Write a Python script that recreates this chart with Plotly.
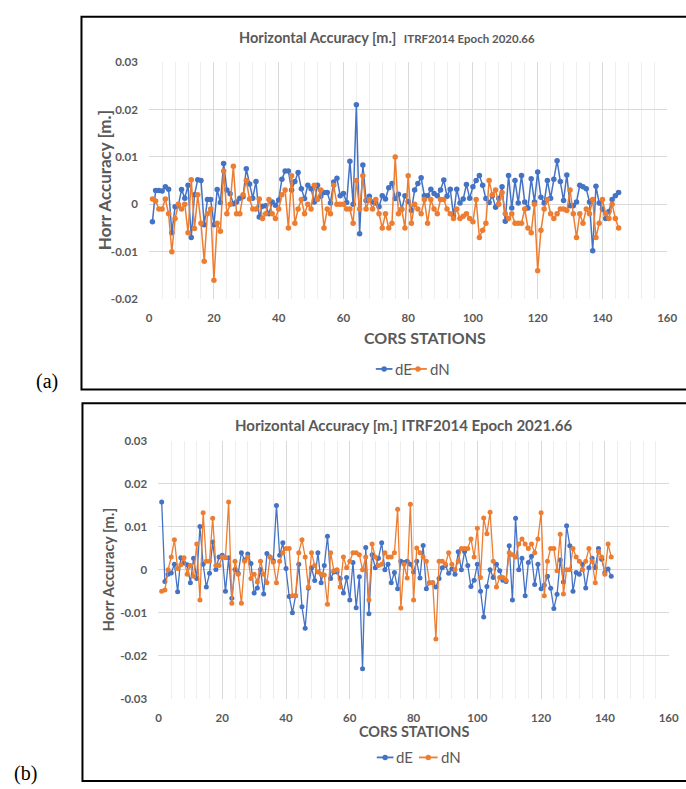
import plotly.graph_objects as go

# ---------------- data ----------------
stations_a = list(range(1, 146))
dE_a = [-0.0037, 0.0029, 0.0029, 0.0028, 0.0037, 0.0032, -0.006, -0.0005, -0.0003, 0.0031,
        0.0013, 0.004, -0.007, 0.002, 0.0052, 0.005, -0.0043, 0.001, 0.001, -0.0043,
        0.0031, 0.0004, 0.0086, 0.003, 0.0022, 0.0001, 0.0005, 0.0013, 0.0016, 0.0075,
        0.0043, 0.0013, 0.0048, -0.0027, -0.0004, -0.0003, -0.002, 0.0005, -0.0002, 0.0009,
        0.0053, 0.007, 0.007, 0.003, 0.0048, 0.0067, 0.0033, 0.0012, 0.004, 0.0033,
        0.0005, 0.004, 0.0017, 0.0025, 0.0025, 0.0003, 0.0047, 0.0055, 0.0018, 0.0023,
        0.0004, 0.0091, 0.0, 0.021, -0.0062, 0.0083, 0.0008, 0.0017, 0.0005, 0.0003,
        -0.0005, 0.0018, 0.0011, 0.0035, 0.0044, 0.0012, 0.0021, -0.0011, 0.0018, 0.0006,
        -0.0013, 0.003, 0.0044, 0.0056, 0.0018, 0.0018, 0.0032, 0.0023, 0.0018, 0.003,
        0.0051, 0.0017, 0.0032, -0.0024, 0.0032, 0.0003, 0.0011, 0.0042, 0.0013, 0.0037,
        0.005, 0.0061, 0.004, 0.0012, 0.0004, 0.0018, -0.0006, 0.0012, 0.0037, -0.0036,
        0.0061, -0.0008, 0.005, 0.0003, 0.0061, 0.0005, -0.0008, 0.0054, 0.0005, 0.0068,
        0.0015, 0.0003, 0.005, 0.0013, 0.0053, 0.0092, 0.0048, 0.0008, 0.0062, -0.0003,
        -0.0003, 0.0005, 0.004, 0.0037, 0.0033, 0.0005, -0.0098, 0.0038, 0.0003, -0.001,
        -0.003, -0.0015, 0.001, 0.0018, 0.0025]
dN_a = [0.0011, 0.0007, -0.001, -0.001, 0.0011, -0.002, -0.01, -0.003, 0.0, -0.001,
        0.0, -0.006, 0.0052, -0.0051, 0.002, -0.004, -0.012, -0.002, -0.001, -0.016,
        -0.004, -0.0057, 0.007, -0.002, 0.0, 0.008, -0.002, -0.002, 0.002, 0.005,
        0.0011, -0.001, -0.001, 0.0011, -0.003, -0.002, 0.001, -0.002, -0.003, -0.001,
        0.002, 0.003, -0.005, 0.006, -0.004, -0.001, 0.001, -0.002, 0.0, -0.001,
        0.004, 0.001, 0.003, -0.005, -0.001, -0.002, 0.004, 0.0, 0.0, 0.0,
        -0.001, -0.001, -0.004, 0.005, -0.001, 0.006, -0.001, 0.001, -0.001, 0.001,
        -0.002, -0.005, -0.002, -0.005, -0.004, 0.01, -0.002, -0.001, -0.005, 0.006,
        -0.004, 0.0, -0.001, -0.002, 0.001, -0.004, 0.001, -0.001, -0.002, 0.001,
        0.001, -0.001, -0.002, -0.003, -0.001, -0.003, -0.0025, -0.002, -0.003, -0.0037,
        0.001, -0.007, -0.0055, -0.004, 0.005, 0.002, 0.003, 0.0, 0.0025, -0.002,
        -0.003, -0.002, -0.004, -0.004, -0.004, -0.001, -0.005, -0.006, 0.0, -0.014,
        -0.0055, -0.001, 0.001, -0.002, -0.003, -0.002, -0.001, -0.001, -0.0013, 0.003,
        -0.002, -0.007, -0.002, -0.004, -0.001, -0.002, 0.001, -0.007, -0.004, 0.001,
        -0.002, -0.003, 0.0, -0.003, -0.005]

stations_b = list(range(1, 143))
dE_b = [0.0158, -0.0027, -0.001, -0.0007, 0.0013, -0.0051, 0.0028, 0.0016, 0.0012, -0.003,
        0.0027, -0.002, 0.0101, 0.0013, -0.004, -0.0008, 0.0065, 0.0001, 0.003, 0.0034,
        -0.005, 0.0028, -0.0066, 0.0001, -0.0008, 0.004, 0.0023, 0.0037, 0.0015, -0.0054,
        -0.0042, 0.0001, -0.0056, 0.0038, 0.003, 0.0021, 0.015, 0.0034, 0.0063, 0.0003,
        -0.0062, -0.01, -0.006, 0.0013, -0.0086, -0.0136, -0.0042, 0.0005, -0.0025, 0.004,
        -0.003, 0.001, 0.0078, -0.002, -0.0005, -0.0005, -0.002, -0.0054, -0.0018, -0.007,
        0.0017, -0.0088, -0.0016, -0.023, 0.0052, -0.0102, 0.0035, 0.0005, 0.0027, 0.0063,
        0.0, 0.0013, -0.003, -0.0006, -0.0044, 0.002, 0.0017, 0.002, 0.0013, -0.0005,
        0.002, -0.0019, 0.0057, -0.0044, -0.003, -0.003, -0.004, -0.002, 0.0005, 0.001,
        -0.0008, 0.0002, -0.001, 0.0042, 0.0, 0.0043, 0.001, -0.0039, -0.0024, 0.0013,
        -0.005, -0.011, -0.0039, 0.0, -0.0018, 0.0013, -0.0002, -0.0024, -0.0027, 0.0056,
        -0.007, 0.012, 0.0, 0.0027, -0.006, 0.0017, 0.0032, -0.0034, 0.0013, -0.0044,
        -0.0035, -0.0015, -0.0043, -0.009, -0.0057, 0.0023, -0.0028, 0.0103, 0.0056, -0.005,
        -0.0006, -0.001, 0.0013, -0.0042, 0.0005, 0.0027, 0.0005, 0.005, 0.0025, -0.0006,
        0.0002, -0.0015]
dN_b = [-0.005, -0.0047, 0.0, 0.003, 0.007, 0.0003, 0.0012, 0.0028, -0.001, 0.001,
        -0.0015, 0.006, -0.007, 0.0133, 0.002, 0.002, 0.012, 0.001, 0.001, 0.003,
        0.0028, 0.0158, -0.0078, 0.002, -0.001, -0.0078, 0.002, 0.003, -0.002, -0.001,
        -0.0028, 0.002, -0.001, -0.003, 0.003, 0.0018, -0.003, 0.002, 0.004, 0.005,
        0.005, -0.006, -0.006, 0.004, 0.007, 0.003, -0.004, 0.004, 0.001, -0.0005,
        -0.001, -0.0012, -0.008, 0.004, -0.0002, 0.0, -0.004, 0.003, 0.0005, 0.002,
        0.004, 0.004, 0.0035, 0.0, 0.003, -0.007, 0.006, 0.003, 0.001, 0.0013,
        0.004, 0.003, 0.003, 0.004, 0.0141, -0.0089, 0.0013, -0.0019, 0.0153, -0.007,
        0.0051, 0.004, 0.003, 0.002, -0.003, -0.003, -0.0161, 0.002, 0.002, 0.0013,
        0.004, 0.0013, 0.0, 0.002, 0.005, 0.005, 0.005, 0.0072, 0.003, 0.0097,
        -0.0018, 0.0121, 0.0084, 0.0134, 0.002, -0.004, -0.0018, -0.0018, -0.0024, 0.004,
        0.0035, 0.003, 0.006, 0.0072, 0.006, 0.005, 0.006, 0.004, 0.0072, 0.0133,
        -0.006, 0.002, 0.005, 0.005, -0.0002, 0.0083, -0.0056, 0.0, 0.0, 0.005,
        0.003, 0.002, 0.0, 0.002, 0.005, 0.002, -0.003, 0.0043, 0.003, -0.001,
        0.006, 0.003]

series_names = ["dE", "dN"]
yticks_a = [-0.02, -0.01, 0, 0.01, 0.02, 0.03]
yticklabels_a = ["-0.02", "-0.01", "0", "0.01", "0.02", "0.03"]
yticks_b = [-0.03, -0.02, -0.01, 0, 0.01, 0.02, 0.03]
yticklabels_b = ["-0.03", "-0.02", "-0.01", "0", "0.01", "0.02", "0.03"]
xticks = [0, 20, 40, 60, 80, 100, 120, 140, 160]

BLUE = "#4472C4"
ORANGE = "#ED7D31"
GRAY = "#595959"
W, H = 686, 789
FONT = "Lato"


def px(x):
    return x / W


def py(y):
    return 1 - y / H


fig = go.Figure()

fig.add_trace(go.Scatter(x=stations_a, y=dE_a, name=series_names[0], mode="lines+markers",
                         line=dict(color=BLUE, width=1.5), marker=dict(color=BLUE, size=5.5),
                         xaxis="x", yaxis="y"))
fig.add_trace(go.Scatter(x=stations_a, y=dN_a, name=series_names[1], mode="lines+markers",
                         line=dict(color=ORANGE, width=1.5), marker=dict(color=ORANGE, size=5.5),
                         xaxis="x", yaxis="y"))
fig.add_trace(go.Scatter(x=stations_b, y=dE_b, name=series_names[0], mode="lines+markers",
                         line=dict(color=BLUE, width=1.3), marker=dict(color=BLUE, size=5),
                         xaxis="x2", yaxis="y2"))
fig.add_trace(go.Scatter(x=stations_b, y=dN_b, name=series_names[1], mode="lines+markers",
                         line=dict(color=ORANGE, width=1.3), marker=dict(color=ORANGE, size=5),
                         xaxis="x2", yaxis="y2"))

tickfont = dict(family=FONT, size=11.5, color=GRAY, weight="bold")


def xax(domain, anchor):
    return dict(domain=domain, anchor=anchor, range=[0, 160], tickvals=xticks,
                showgrid=True, gridcolor="#d9d9d9", gridwidth=1,
                minor=dict(dtick=4, tick0=0, showgrid=True, gridcolor="#eeeeee", gridwidth=1),
                zeroline=False, showline=False, ticks="outside", ticklen=8,
                tickcolor="rgba(0,0,0,0)", tickfont=tickfont, fixedrange=True,
                ticklabeloverflow="allow")


def yax(domain, anchor, rng, vals, labels):
    return dict(domain=domain, anchor=anchor, range=rng, tickvals=vals, ticktext=labels,
                showgrid=True, gridcolor="#d9d9d9", gridwidth=1, zeroline=False,
                showline=False, ticks="outside", ticklen=8, tickcolor="rgba(0,0,0,0)",
                tickfont=tickfont, fixedrange=True)


layout = dict(
    width=W, height=H, margin=dict(l=0, r=0, t=0, b=0),
    paper_bgcolor="white", plot_bgcolor="white", showlegend=False,
    xaxis=xax([px(149), px(677)], "y"),
    yaxis=yax([py(297), py(56)], "x", [-0.02, 0.03], yticks_a, yticklabels_a),
    xaxis2=xax([px(158.5), px(678.5)], "y2"),
    yaxis2=yax([py(703.3), py(441.3)], "x2", [-0.03, 0.03], yticks_b, yticklabels_b),
)
fig.update_layout(**layout)

# panel frames
fig.add_shape(type="rect", xref="paper", yref="paper", x0=px(80), x1=px(700),
              y0=py(389), y1=py(10), line=dict(color="black", width=2))
fig.add_shape(type="rect", xref="paper", yref="paper", x0=px(81), x1=px(700),
              y0=py(787), y1=py(403), line=dict(color="black", width=2))

ann = []


# compact Excel-style legends (line sample + dot + label)
def legend_item(x_line0, x_line1, y, color, label, x_text, size):
    fig.add_shape(type="line", xref="paper", yref="paper", x0=px(x_line0), x1=px(x_line1),
                  y0=py(y), y1=py(y), line=dict(color=color, width=1.8))
    xc = (x_line0 + x_line1) / 2
    fig.add_shape(type="circle", xref="paper", yref="paper", x0=px(xc - 2.8), x1=px(xc + 2.8),
                  y0=py(y + 2.8), y1=py(y - 2.8), fillcolor=color, line=dict(color=color, width=0))
    ann.append(dict(text=label, x=px(x_text), y=py(y), xanchor="left",
                    font=dict(family=FONT, size=size, color=GRAY)))


legend_item(380, 397, 368, BLUE, series_names[0], 398, 15)
legend_item(414, 432, 368, ORANGE, series_names[1], 433, 15)
legend_item(381, 398, 763, BLUE, series_names[0], 399, 15)
legend_item(424, 443, 763, ORANGE, series_names[1], 444, 15)

ann.append(dict(text="<b>Horizontal Accuracy [m.]</b>  <span style='font-size:11.5px'><b>ITRF2014 Epoch 2020.66</b></span>",
                x=px(391), y=py(31), font=dict(family=FONT, size=14.5, color=GRAY)))
ann.append(dict(text="<b>Horizontal Accuracy [m.] ITRF2014 Epoch 2021.66</b>",
                x=px(408), y=py(425), font=dict(family=FONT, size=15, color=GRAY)))
ann.append(dict(text="<b>CORS STATIONS</b>", x=px(430), y=py(336),
                font=dict(family=FONT, size=16, color=GRAY)))
ann.append(dict(text="<b>CORS STATIONS</b>", x=px(419), y=py(737),
                font=dict(family=FONT, size=14.5, color=GRAY)))
ann.append(dict(text="<b>Horr Accuracy [m.]</b>", x=px(103), y=py(176), textangle=-90,
                font=dict(family=FONT, size=17, color=GRAY)))
ann.append(dict(text="<b>Horr Accuracy [m.]</b>", x=px(107), y=py(572), textangle=-90,
                font=dict(family=FONT, size=15, color=GRAY)))
ann.append(dict(text="(a)", x=px(45), y=py(381),
                font=dict(family="Liberation Serif", size=20, color="black")))
ann.append(dict(text="(b)", x=px(23), y=py(779),
                font=dict(family="Liberation Serif", size=20, color="black")))
for a in ann:
    a.setdefault("xanchor", "center")
    a.update(xref="paper", yref="paper", showarrow=False, yanchor="middle")
fig.update_layout(annotations=ann)

fig.write_html("out.html", config={"displayModeBar": False},
               post_script="document.body.style.margin='0';")
